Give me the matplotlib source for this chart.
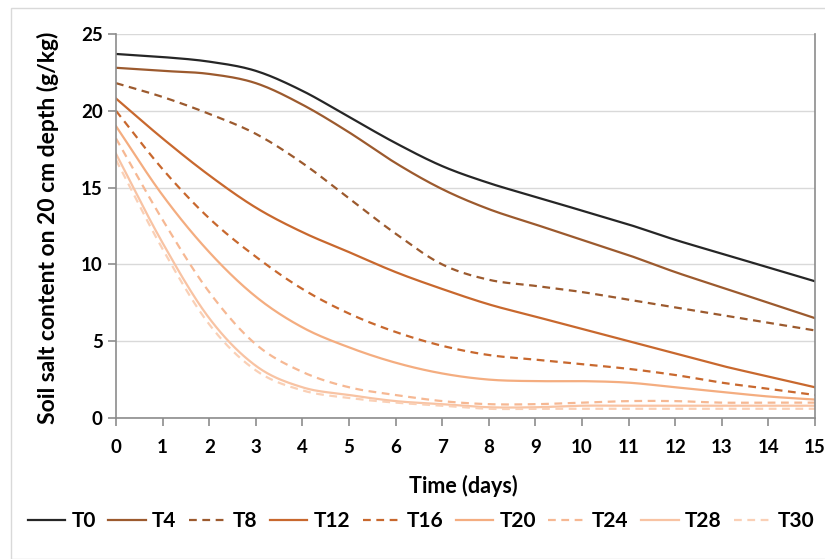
import numpy as np
import matplotlib
matplotlib.use("Agg")
import matplotlib.pyplot as plt
from matplotlib.patches import Rectangle

plt.rcParams['font.family'] = ['Lato', 'DejaVu Sans']

days = list(range(16))
labels = ["T0", "T4", "T8", "T12", "T16", "T20", "T24", "T28", "T30"]

t0 = [23.7, 23.5, 23.2, 22.6, 21.3, 19.6, 17.9, 16.4, 15.3, 14.4, 13.5, 12.6, 11.6, 10.7, 9.8, 8.9]
t4 = [22.8, 22.6, 22.4, 21.8, 20.4, 18.6, 16.6, 14.9, 13.6, 12.6, 11.6, 10.6, 9.5, 8.5, 7.5, 6.5]
t8 = [21.8, 20.9, 19.8, 18.5, 16.6, 14.3, 12.0, 10.0, 9.0, 8.6, 8.2, 7.7, 7.2, 6.7, 6.2, 5.7]
t12 = [20.8, 18.2, 15.8, 13.7, 12.1, 10.8, 9.5, 8.4, 7.4, 6.6, 5.8, 5.0, 4.2, 3.4, 2.7, 2.0]
t16 = [20.0, 16.2, 13.0, 10.5, 8.4, 6.8, 5.6, 4.7, 4.1, 3.8, 3.5, 3.2, 2.8, 2.3, 1.9, 1.5]
t20 = [19.0, 14.5, 10.8, 7.9, 5.9, 4.6, 3.6, 2.9, 2.5, 2.4, 2.4, 2.3, 2.0, 1.7, 1.4, 1.2]
t24 = [18.2, 12.9, 8.2, 4.8, 3.0, 2.0, 1.5, 1.1, 0.9, 0.9, 1.0, 1.1, 1.1, 1.0, 1.0, 1.0]
t28 = [17.2, 11.4, 6.5, 3.4, 2.0, 1.5, 1.1, 0.9, 0.7, 0.7, 0.8, 0.8, 0.8, 0.8, 0.8, 0.8]
t30 = [16.8, 11.0, 6.1, 3.1, 1.8, 1.3, 1.0, 0.8, 0.6, 0.6, 0.6, 0.6, 0.6, 0.6, 0.6, 0.6]
series = [t0, t4, t8, t12, t16, t20, t24, t28, t30]

colors = ["#262626", "#9C5A2E", "#9C5A2E", "#C8682E", "#C8682E",
          "#F4AD80", "#F6B893", "#F8C3A3", "#FAD0B6"]
styles = ["-", "-", "--", "-", "--", "-", "--", "-", "--"]


def smooth(x, y, n=20):
    # catmull-rom, roughly what excel does with "smoothed line"
    x = np.asarray(x, float)
    y = np.asarray(y, float)
    px = np.concatenate([[2 * x[0] - x[1]], x, [2 * x[-1] - x[-2]]])
    py = np.concatenate([[2 * y[0] - y[1]], y, [2 * y[-1] - y[-2]]])
    xs, ys = [], []
    t = np.linspace(0, 1, n, endpoint=False)
    for i in range(1, len(px) - 2):
        for p, out in ((px, xs), (py, ys)):
            p0, p1, p2, p3 = p[i - 1], p[i], p[i + 1], p[i + 2]
            out.extend(0.5 * (2 * p1 + (-p0 + p2) * t
                              + (2 * p0 - 5 * p1 + 4 * p2 - p3) * t ** 2
                              + (-p0 + 3 * p1 - 3 * p2 + p3) * t ** 3))
    xs.append(x[-1])
    ys.append(y[-1])
    return xs, ys


fig = plt.figure(figsize=(8.25, 5.59), dpi=100)
fig.patches.append(Rectangle((11 / 825, 0), 1, 1 - 8 / 559, transform=fig.transFigure,
                             fill=False, edgecolor="#d9d9d9", lw=1))
ax = fig.add_axes([116 / 825, 1 - 418 / 559, 699 / 825, 384 / 559])

for s, lab, c, ls in zip(series, labels, colors, styles):
    sx, sy = smooth(days, s)
    ax.plot(sx, sy, color=c, ls=ls, lw=1.6, label=lab,
            dashes=(3.5, 2.5) if ls == "--" else (None, None))

ax.set_xlim(0, 15)
ax.set_ylim(0, 25)
ax.set_xticks(days)
ax.set_yticks([0, 5, 10, 15, 20, 25])
ax.yaxis.grid(True, color="#d9d9d9", lw=1)
ax.set_axisbelow(True)
for sp in ["left", "bottom", "right"]:
    ax.spines[sp].set_color("#8c8c8c")
    ax.spines[sp].set_linewidth(1.2)
ax.spines["top"].set_visible(False)
ax.tick_params(axis="both", colors="#8c8c8c", length=6, width=1.2, direction="out")
ax.tick_params(axis="both", labelcolor="black", labelsize=13.5)
ax.tick_params(axis="x", pad=9)
for lbl in ax.get_xticklabels() + ax.get_yticklabels():
    lbl.set_fontweight("bold")

fig.text(463 / 825, 1 - 486 / 559, "Time (days)", fontsize=15.5,
         fontweight="bold", ha="center", va="center")
fig.text(48 / 825, 1 - 228 / 559, "Soil salt content on 20 cm depth (g/kg)",
         fontsize=16.5, fontweight="bold", rotation=90, ha="center", va="center")

leg = fig.legend(loc="center", bbox_to_anchor=(421 / 825, 1 - 521 / 559), ncol=9,
                 frameon=False, handlelength=1.8, columnspacing=0.6,
                 handletextpad=0.3, borderaxespad=0, borderpad=0,
                 prop={"weight": "bold", "size": 15})

fig.savefig("out.png", dpi=100)
